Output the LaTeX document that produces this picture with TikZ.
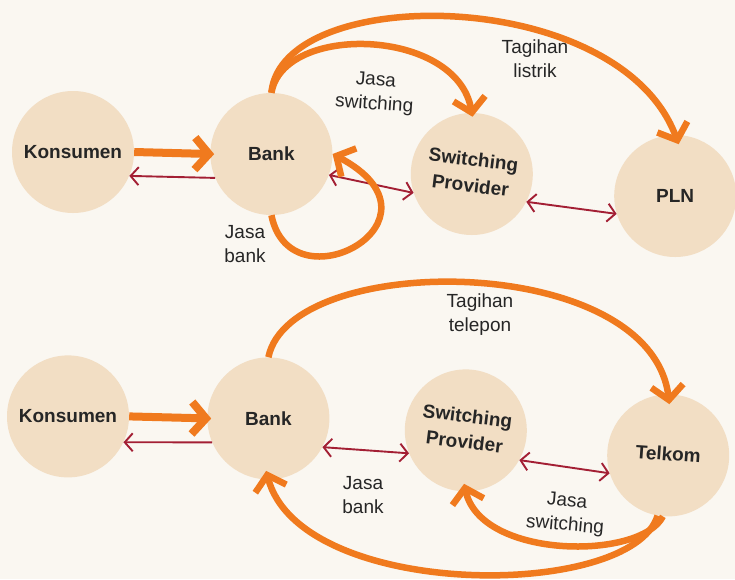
\documentclass[tikz,border=0pt]{standalone}
\usepackage{fontspec}
\usepackage{graphicx}
\setmainfont{Liberation Sans}
\usetikzlibrary{arrows.meta,positioning}
\definecolor{paper}{HTML}{FAF7F1}
\definecolor{disc}{HTML}{F2DEC4}
\definecolor{flowc}{HTML}{F07A1E}
\definecolor{infoc}{HTML}{A31F34}
\definecolor{ink}{HTML}{262626}
\newcommand{\tilted}[2]{\rotatebox{#1}{\begin{tabular}{@{}c@{}}#2\end{tabular}}}
\tikzset{
    %Define style for the parties
    party/.style={
    circle,
    fill=disc,
    minimum size=122pt,
    inner sep=0pt,
    align=center,
    font=\fontsize{19}{26}\selectfont\bfseries,
    text=ink
    },
    %Define style for the labels
    lbl/.style={
    align=center,
    font=\fontsize{19}{24}\selectfont,
    text=ink
    },
    % Define arrow styles
    flow/.style={
           -{Straight Barb[length=14pt,width=32pt]},
           draw=flowc,
           line width=6.5pt},
    info/.style={
           {Straight Barb[length=8pt,width=18pt]}-{Straight Barb[length=8pt,width=18pt]},
           draw=infoc,
           line width=1.9pt},
    back/.style={
           -{Straight Barb[length=8pt,width=18pt]},
           draw=infoc,
           line width=1.9pt}
}
\begin{document}
\begin{tikzpicture}
		\useasboundingbox (0,0) rectangle (735pt,-579pt);
		\fill[paper] (0,0) rectangle (735pt,-579pt);
		% listrik
		\node[party] (kons1) at (73pt,-152pt) {Konsumen};
		\node[party, right=76pt of kons1, yshift=-2pt] (bank1) {Bank};
		\node[party, right=78pt of bank1, yshift=-20pt] (sw1) {\tilted{-7}{Switching\\Provider}};
		\node[party, right=81pt of sw1, yshift=-22pt] (pln) {PLN};
		\node[lbl, rotate=-4] (jsw1) at (375pt,-93pt) {Jasa\\switching};
		\node[lbl] (tag1) at (535pt,-59pt) {Tagihan\\listrik};
		\node[lbl] (jb1) at (245pt,-244pt) {Jasa\\bank};
		\draw[flow, line width=8pt, shorten >=-4pt] (kons1.east) -- (bank1.west);
		\draw[back] (bank1.203) -- (kons1.337);
		\draw[info] (bank1.340) -- (sw1.198);
		\draw[info] (sw1.333) -- (pln.197);
		\draw[flow, shorten >=-10pt] (bank1.north) .. controls +(10pt,110pt) and +(-55pt,150pt) .. (pln.north);
		\draw[flow, shorten >=-4pt] (bank1.north) .. controls +(12pt,70pt) and +(-15pt,85pt) .. (sw1.north);
		\draw[flow] (bank1.south) .. controls +(19pt,-95pt) and +(125pt,-66pt) .. (bank1.east);
		% telepon
		\node[party, below=142pt of kons1, xshift=-5pt] (kons2) {Konsumen};
		\node[party, right=78pt of kons2, yshift=-2pt] (bank2) {Bank};
		\node[party, right=75pt of bank2, yshift=-12pt] (sw2) {\tilted{-7}{Switching\\Provider}};
		\node[party, right=80pt of sw2, yshift=-25pt] (tel) {\tilted{-4}{Telkom}};
		\node[lbl] (tag2) at (480pt,-315pt) {Tagihan\\telepon};
		\node[lbl] (jb2) at (363pt,-495pt) {Jasa\\bank};
		\node[lbl, rotate=-5] (jsw2) at (566pt,-514pt) {Jasa\\switching};
		\draw[flow, line width=8pt, shorten >=-4pt] (kons2.east) -- (bank2.west);
		\draw[back] (bank2.203) -- (kons2.335);
		\draw[info] (bank2.332) -- (sw2.202);
		\draw[info] (sw2.331) -- (tel.197);
		\draw[flow, shorten >=-10pt] (bank2.north) .. controls +(22pt,107pt) and +(-17pt,143pt) .. (tel.north);
		\draw[flow, shorten >=-8pt] (tel.-95) .. controls +(-22pt,-44pt) and +(15pt,-68pt) .. (sw2.south);
		\draw[flow, shorten >=-9pt] (tel.-100) .. controls +(-26pt,-85pt) and +(32pt,-121pt) .. (bank2.south);
\end{tikzpicture}
\end{document}
